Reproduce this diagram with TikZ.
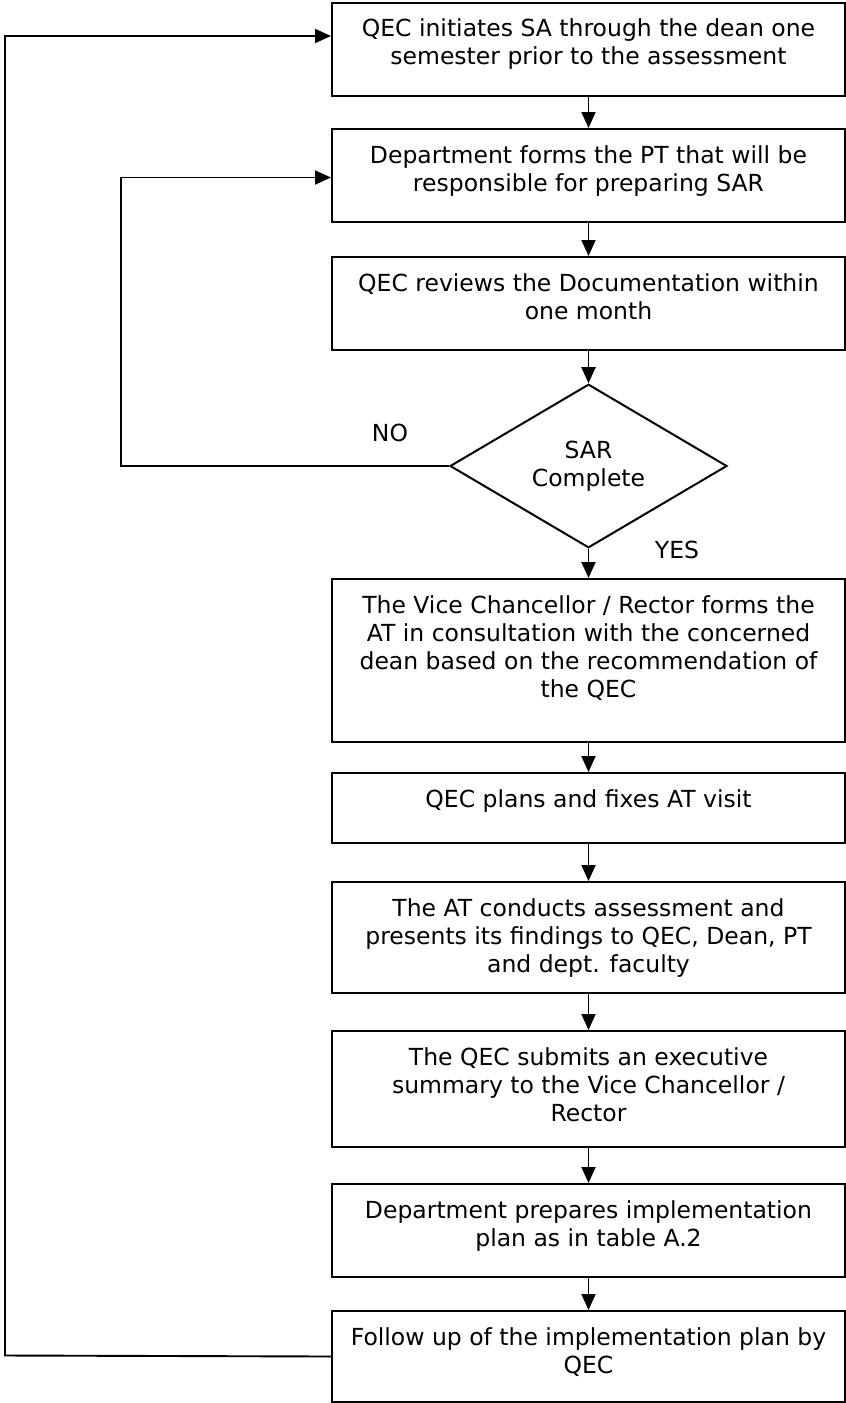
\documentclass[tikz,border=0pt]{standalone}
\usepackage{fontspec}
\setmainfont{DejaVu Sans}
\usetikzlibrary{positioning,shapes.geometric,arrows.meta}
\newcommand{\tikzStepNode}[4]{
  \node[stepbox,minimum height=#3] (#1) at (588.5,#2) {};
  \node[steptext,below=17pt of #1.north] (#1text) {#4};
}

\begin{document}
\begin{tikzpicture}[x=1pt,y=-1pt,
  stepbox/.style={draw,line width=2pt,rectangle,anchor=north,inner sep=0pt,minimum width=513pt},
  steptext/.style={align=center,inner sep=0pt,font=\fontsize{23.5pt}{28pt}\selectfont},
  decision/.style={draw,line width=2pt,diamond,inner sep=0pt,minimum width=277pt,minimum height=162pt,align=center,font=\fontsize{23.5pt}{28pt}\selectfont},
  flow/.style={line width=1.9pt,-{Triangle[length=16pt,width=14pt]}}]

  \useasboundingbox (0,0) rectangle (846,1403);

  \tikzStepNode{s1}{1.5}{93pt}{QEC initiates SA through the dean one\\semester prior to the assessment}
  \tikzStepNode{s2}{128}{93pt}{Department forms the PT that will be\\responsible for preparing SAR}
  \tikzStepNode{s3}{256}{93pt}{QEC reviews the Documentation within\\one month}

  \node[decision] (sar) at (588.5,466) {SAR\\Complete};
  \node[font=\fontsize{23.5pt}{28pt}\selectfont] (no) at (390,433) {NO};
  \node[font=\fontsize{23.5pt}{28pt}\selectfont] (yes) at (677,550) {YES};

  \tikzStepNode{s4}{578}{163pt}{The Vice Chancellor / Rector forms the\\AT in consultation with the concerned\\dean based on the recommendation of\\the QEC}
  \tikzStepNode{s5}{772}{70pt}{QEC plans and fixes AT visit}
  \tikzStepNode{s6}{881}{111pt}{The AT conducts assessment and\\presents its findings to QEC, Dean, PT\\and dept. faculty}
  \tikzStepNode{s7}{1030}{116pt}{The QEC submits an executive\\summary to the Vice Chancellor /\\Rector}
  \tikzStepNode{s8}{1183}{93pt}{Department prepares implementation\\plan as in table A.2}
  \tikzStepNode{s9}{1310}{91pt}{Follow up of the implementation plan by\\QEC}

  % main flow
  \draw[flow] (s1) -- (s2);
  \draw[flow] (s2) -- (s3);
  \draw[flow] (s3) -- (sar);
  \draw[flow] (sar) -- (s4);
  \draw[flow] (s4) -- (s5);
  \draw[flow] (s5) -- (s6);
  \draw[flow] (s6) -- (s7);
  \draw[flow] (s7) -- (s8);
  \draw[flow] (s8) -- (s9);

  % loops back
  \coordinate (noBend) at (121,466);
  \draw[flow] (sar.west) -- (noBend) |- ([yshift=-2pt]s2.west);
  \coordinate (loopBend) at (5,1355.5);
  \draw[flow] (s9.west) -- (loopBend) |- ([yshift=13pt]s1.west);

\end{tikzpicture}
\end{document}
